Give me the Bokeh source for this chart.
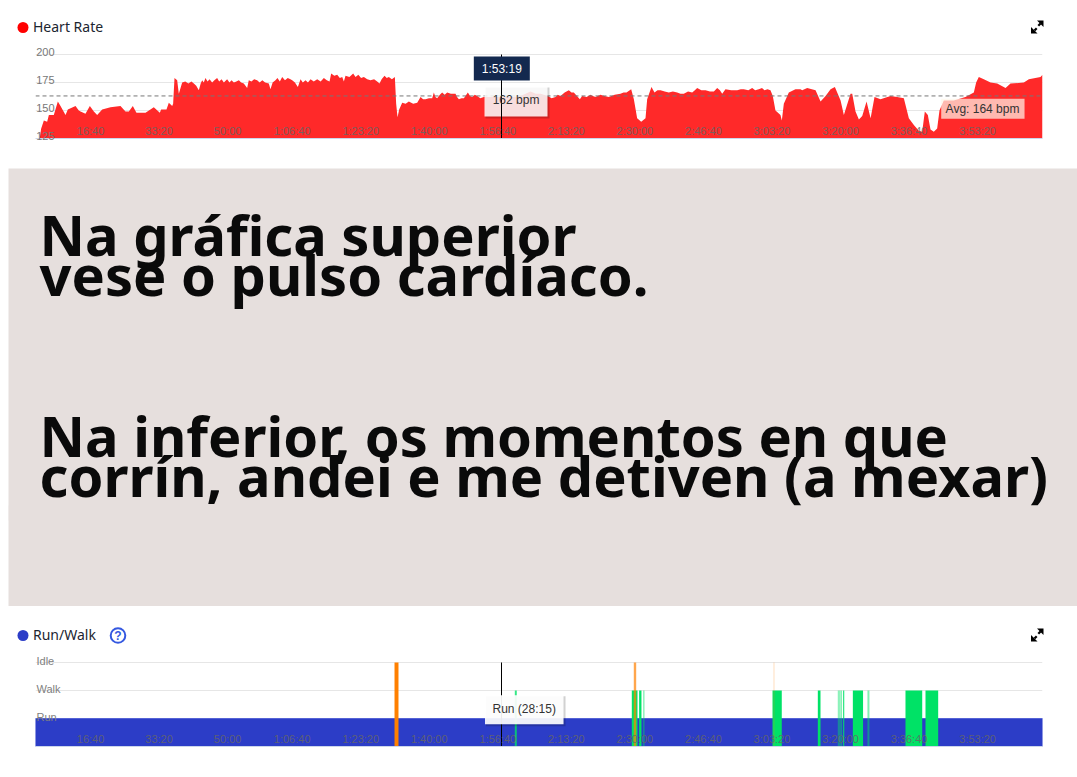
from bokeh.plotting import figure
from bokeh.layouts import column
from bokeh.models import Range1d, LinearAxis, FixedTicker, Grid, ColumnDataSource
from bokeh.core.properties import value
from bokeh.embed import file_html
from bokeh.resources import INLINE

# ---------- data ----------
tick_secs = [1000, 2000, 3000, 4000, 5000, 6000, 7000, 8000, 9000, 10000, 11000, 12000, 13000, 14000]
tick_labels = ["16:40", "33:20", "50:00", "1:06:40", "1:23:20", "1:40:00", "1:56:40", "2:13:20",
               "2:30:00", "2:46:40", "3:03:20", "3:20:00", "3:36:40", "3:53:20"]
total_secs = 14692
cursor_sec = 6799
cursor_label = "1:53:19"
cursor_bpm = "162 bpm"
avg_label = "Avg: 164 bpm"
avg_line = 163
hr_ticks = [125, 150, 175, 200]
state_ticks = [0, 1, 2]
state_names = ["Run", "Walk", "Idle"]

# (seconds, bpm)
hr_points = [
    (63, 126), (83, 134), (122, 141), (170, 140), (195, 146), (267, 146), (326, 158), (365, 154), (438, 146),
    (472, 151), (584, 154), (632, 150), (657, 149), (729, 147), (793, 154), (851, 149), (900, 146), (973, 151),
    (1094, 153), (1240, 154), (1313, 149), (1362, 149), (1420, 154), (1473, 148), (1605, 148), (1726, 153),
    (1814, 148), (1833, 151), (1911, 151), (1945, 157), (1994, 154), (2008, 156), (2028, 179), (2067, 177),
    (2091, 165), (2140, 175),
    (2185, 176), (2230, 174), (2275, 176), (2310, 174), (2345, 172), (2383, 168), (2410, 174), (2432, 177),
    (2455, 175), (2480, 179), (2510, 176), (2540, 178), (2577, 175), (2610, 177), (2650, 179), (2680, 176),
    (2715, 178), (2748, 175), (2796, 178), (2830, 175), (2860, 177), (2894, 175), (2930, 176), (2967, 177),
    (3000, 175), (3039, 174), (3088, 170), (3112, 177), (3150, 176), (3190, 178), (3234, 177), (3270, 175),
    (3310, 177), (3350, 175), (3404, 174), (3428, 169), (3460, 175), (3501, 177), (3530, 179), (3565, 176),
    (3599, 180), (3640, 177), (3680, 179), (3720, 178), (3745, 177), (3785, 175), (3828, 171), (3867, 178),
    (3900, 175), (3940, 177), (3975, 175), (4013, 178), (4060, 176), (4110, 178), (4160, 176), (4207, 179),
    (4250, 177), (4290, 176), (4314, 183), (4360, 181), (4402, 182), (4440, 179), (4475, 180), (4499, 176),
    (4523, 181), (4580, 180), (4635, 183), (4669, 180), (4710, 182), (4750, 179), (4791, 180), (4840, 178),
    (4888, 177), (4940, 178), (4985, 176), (5019, 174), (5050, 178), (5092, 181), (5125, 179), (5155, 180),
    (5200, 178), (5243, 180), (5262, 156), (5282, 144), (5306, 151),
    (5350, 157), (5400, 156), (5447, 158), (5510, 156), (5569, 157), (5618, 162), (5655, 160), (5691, 160),
    (5740, 161), (5788, 161), (5812, 166), (5835, 162), (5860, 161), (5900, 164), (5933, 166), (5970, 164),
    (6006, 166), (6060, 165), (6128, 165), (6150, 162), (6177, 160), (6215, 161), (6250, 161), (6308, 166),
    (6340, 163), (6371, 162), (6410, 164), (6444, 163), (6490, 161), (6541, 162), (6687, 162), (6809, 162),
    (6979, 162), (7076, 163), (7150, 165), (7222, 167), (7300, 165), (7368, 165), (7475, 163), (7530, 161),
    (7587, 162), (7620, 164), (7660, 163), (7720, 166), (7781, 168), (7820, 166), (7854, 166), (7900, 163),
    (7942, 160), (7976, 163), (8040, 162), (8097, 164), (8130, 163), (8170, 162), (8243, 164), (8300, 163),
    (8365, 162), (8450, 164), (8535, 165), (8580, 166), (8623, 166), (8691, 169),
    (8730, 160), (8778, 143), (8837, 140), (8900, 143), (8924, 160),
    (8987, 171), (9031, 166), (9075, 168), (9119, 168), (9180, 167), (9240, 166), (9300, 167), (9362, 166),
    (9410, 165), (9459, 165), (9520, 167), (9581, 166), (9620, 168), (9654, 170), (9715, 168), (9776, 168),
    (9840, 167), (9897, 167), (9946, 170), (9985, 168), (10019, 165), (10067, 169), (10150, 168), (10237, 168),
    (10290, 169), (10334, 169), (10400, 168), (10456, 170), (10500, 168), (10553, 169), (10600, 170),
    (10636, 168), (10680, 169), (10723, 168),
    (10757, 163), (10796, 150), (10869, 146), (10889, 141), (10918, 156), (10991, 166), (11088, 169),
    (11161, 169), (11186, 168), (11259, 170), (11381, 168), (11454, 158), (11527, 163), (11600, 169),
    (11663, 171), (11746, 159), (11794, 146), (11891, 165), (11916, 165), (11964, 149), (12013, 142),
    (12062, 145), (12125, 158), (12184, 143), (12241, 162), (12329, 160), (12475, 163), (12572, 162),
    (12669, 161), (12742, 143), (12815, 137), (12888, 132), (12937, 131), (12975, 149), (13019, 146),
    (13058, 133), (13106, 131), (13155, 134), (13189, 150), (13252, 159), (13398, 159), (13568, 162),
    (13690, 166), (13724, 175), (13763, 180), (13836, 178), (13934, 175), (14031, 174), (14153, 170),
    (14225, 174), (14420, 175), (14493, 178), (14663, 180), (14692, 182),
]
hr_t = [pt[0] for pt in hr_points]
hr_bpm = [pt[1] for pt in hr_points]

walk_start = [6993, 8700, 8807, 8866, 10753, 11414, 11705, 11745, 11781, 11925, 12138, 12693, 12985]
walk_end = [7022, 8783, 8841, 8885, 10888, 11453, 11737, 11762, 11800, 12074, 12167, 12937, 13170]
walk_alpha = [0.8, 1, 1, 0.5, 1, 1, 0.45, 0.7, 0.8, 1, 0.5, 1, 1]
idle_start = [5238, 8729, 10767]
idle_end = [5296, 8764, 10782]
idle_alpha = [1, 0.7, 0.25]

heading_lines = ["Na gráfica superior", "vese o pulso cardíaco.",
                 "Na inferior, os momentos en que", "corrín, andei e me detiven (a mexar)"]

# ---------- style ----------
W = 1069
SANS = "Liberation Sans"
HEAD = "Noto Sans"
RED, BLUE, GREEN, ORANGE = "#ff2929", "#2c3dc7", "#00e266", "#ff8000"
# the reference draws its longer labels a little further left of their tick
label_pos = [t - (58 if len(s) > 5 else 0) for t, s in zip(tick_secs, tick_labels)]
overrides = dict(zip(label_pos, tick_labels))


def style_common(p):
    p.outline_line_color = None
    p.background_fill_color = "white"
    p.border_fill_color = "white"
    p.grid.visible = False


def header(top, bottom, title, dot, cy):
    p = figure(width=W, height=bottom - top, x_range=Range1d(8, 1077), y_range=Range1d(bottom, top),
               x_axis_location=None, y_axis_location=None, toolbar_location=None, output_backend="svg",
               frame_align=False, min_border=0, min_border_left=0, min_border_right=0, min_border_top=0,
               min_border_bottom=0)
    style_common(p)
    p.scatter([22.5], [cy], size=11, color=dot, line_width=0)
    p.text([32.5], [cy - 1], text=[title], text_font=value(HEAD), text_font_size="14px", text_color="#1c2530",
           text_baseline="middle", text_align="left")
    # expand icon
    o = cy - 27
    p.patches([[1043, 1036.5, 1043], [1030.5, 1030.5, 1037]],
              [[20 + o, 20 + o, 26.5 + o], [33 + o, 26.5 + o, 33 + o]], color="black", line_width=0)
    p.segment([1040, 1034], [23 + o, 30 + o], [1037.8, 1036.2], [25.2 + o, 27.8 + o], color="black", line_width=2.2)
    return p


def make_axes(p, yticks, y_labels, label_range, standoff):
    p.extra_x_ranges = {"lab": Range1d(197, total_secs + 197)}
    p.extra_y_ranges = {"lab": label_range}
    xa = LinearAxis(x_range_name="lab", ticker=FixedTicker(ticks=label_pos), major_label_overrides=overrides,
                    major_tick_line_color=None, minor_tick_line_color=None, axis_line_color="#ccd6eb",
                    major_tick_in=0, major_tick_out=0, minor_tick_in=0, minor_tick_out=0,
                    major_label_standoff=-14, major_label_text_font=SANS, major_label_text_font_size="11px",
                    major_label_text_color="#666666", major_label_text_alpha=0.85)
    p.add_layout(xa, "below")
    ya = LinearAxis(y_range_name="lab", ticker=FixedTicker(ticks=yticks), major_label_overrides=y_labels,
                    major_tick_line_color=None, minor_tick_line_color=None, axis_line_color=None,
                    major_tick_in=0, major_tick_out=0, minor_tick_in=0, minor_tick_out=0,
                    major_label_standoff=standoff, major_label_text_font=SANS, major_label_text_font_size="11px",
                    major_label_text_color="#777777")
    p.add_layout(ya, "left")
    p.add_layout(Grid(dimension=1, ticker=FixedTicker(ticks=yticks), grid_line_color="#e6e6e6", grid_line_width=1))


def tooltip(p, l, r, t, b, dx, dy, alpha=0.85):
    p.quad(left=[l + dx * 0.5], right=[r + dx], top=[t - dy * 0.5], bottom=[b - dy], color="black", alpha=0.18, line_width=0)
    p.quad(left=[l], right=[r], top=[t], bottom=[b], color="white", alpha=alpha, line_width=0)


# ---------- heart rate ----------
h1 = header(8, 42, "Heart Rate", "#ff0000", 27)
p1 = figure(width=W, height=126, x_range=Range1d(0, total_secs), y_range=Range1d(125, 205.36),
            x_axis_location=None, y_axis_location=None, toolbar_location=None, output_backend="svg",
            frame_align=False, min_border_left=27, min_border_right=35, min_border_top=6, min_border_bottom=30)
style_common(p1)
make_axes(p1, hr_ticks, {v: str(v) for v in hr_ticks}, Range1d(123.2, 203.57), -19)
p1.varea(x=hr_t, y1=[125] * len(hr_t), y2=hr_bpm, color=RED)
p1.line([0, total_secs], [avg_line, avg_line], color="#777777", line_width=1, line_dash="4 3")
p1.quad(left=[13214], right=[14430], top=[160.4], bottom=[142.6], color="#fff6ea", alpha=0.7, line_width=0)
p1.text([13817], [151.5], text=[avg_label], text_font=value(SANS), text_font_size="12px", text_color="#333333",
        text_align="center", text_baseline="middle")
tooltip(p1, 6551, 7470, 171.4, 144.6, 29, 1.8)
p1.line([cursor_sec, cursor_sec], [125, 200], color="black", line_width=1)
p1.quad(left=[6395], right=[7212], top=[198.2], bottom=[176.8], color="#13294f", line_width=0)
p1.text([6803], [187.5], text=[cursor_label], text_font=value(SANS), text_font_size="12px", text_color="white",
        text_align="center", text_baseline="middle")
p1.text([7011], [159], text=[cursor_bpm], text_font=value(SANS), text_font_size="12px", text_color="#333333",
        text_align="center", text_baseline="middle")

# ---------- panel ----------
panel = figure(width=W, height=438, x_range=Range1d(8, 1077), y_range=Range1d(606, 168),
               x_axis_location=None, y_axis_location=None, toolbar_location=None, output_backend="svg",
               frame_align=False, min_border=0, min_border_left=0, min_border_right=0, min_border_top=0,
               min_border_bottom=0)
panel.outline_line_color = None
panel.background_fill_color = "#e6dfdd"
panel.border_fill_color = "#e6dfdd"
panel.grid.visible = False
panel.text([39, 39, 39, 39], [233, 273, 434, 474], text=heading_lines, text_font=value(HEAD), text_font_size="56px",
           text_font_style="bold", text_color="#0a0a0a", text_baseline="alphabetic", text_align="left")
panel.quad(left=[8], right=[1077], top=[505], bottom=[520], color="#e6dfdd", line_width=0)

# ---------- run / walk ----------
h2 = header(606, 650, "Run/Walk", BLUE, 635)
h2.circle([117.5], [635], radius=7.3, fill_color=None, line_color="#3558e0", line_width=2)
h2.text([117.5], [635.5], text=["?"], text_font=value(SANS), text_font_size="12px", text_font_style="bold",
        text_color="#3558e0", text_align="center", text_baseline="middle")

p2 = figure(width=W, height=119, x_range=Range1d(0, total_secs), y_range=Range1d(-1, 2.25),
            x_axis_location=None, y_axis_location=None, toolbar_location=None, output_backend="svg",
            frame_align=False, min_border_left=27, min_border_right=35, min_border_top=5, min_border_bottom=23)
style_common(p2)
make_axes(p2, state_ticks, {v: "" for v in state_ticks}, Range1d(-1.046, 2.204), 0)
p2.quad(left=[0], right=[total_secs], top=[state_ticks[0]], bottom=[-1], fill_color=BLUE, line_color="#5563d6", line_width=1)
p2.quad(left="l", right="r", top=state_ticks[1], bottom=-1, color=GREEN, fill_alpha="a", line_width=0,
        source=ColumnDataSource(dict(l=walk_start, r=walk_end, a=walk_alpha)))
p2.quad(left="l", right="r", top=state_ticks[2], bottom=-1, color=ORANGE, fill_alpha="a", line_width=0,
        source=ColumnDataSource(dict(l=idle_start, r=idle_end, a=idle_alpha)))
p2.line([cursor_sec, cursor_sec], [-1, 2], color="black", line_width=1)
tooltip(p2, 6558, 7704, 0.832, -0.204, 29, 0.07, alpha=0.92)
p2.text([7130], [0.33], text=["Run (28:15)"], text_font=value(SANS), text_font_size="12px", text_color="#333333",
        text_align="center", text_baseline="middle")
# left-aligned state names on the plot edge
p2.text([0, 0, 0], state_ticks, text=state_names, x_offset=1, y_offset=-1.3, text_font=value(SANS),
        text_font_size="11px", text_color="#808080", text_align="left", text_baseline="middle")

page = column(h1, p1, panel, h2, p2, spacing=0, margin=(8, 0, 0, 8))
open("out.html", "w").write(file_html(page, INLINE))
